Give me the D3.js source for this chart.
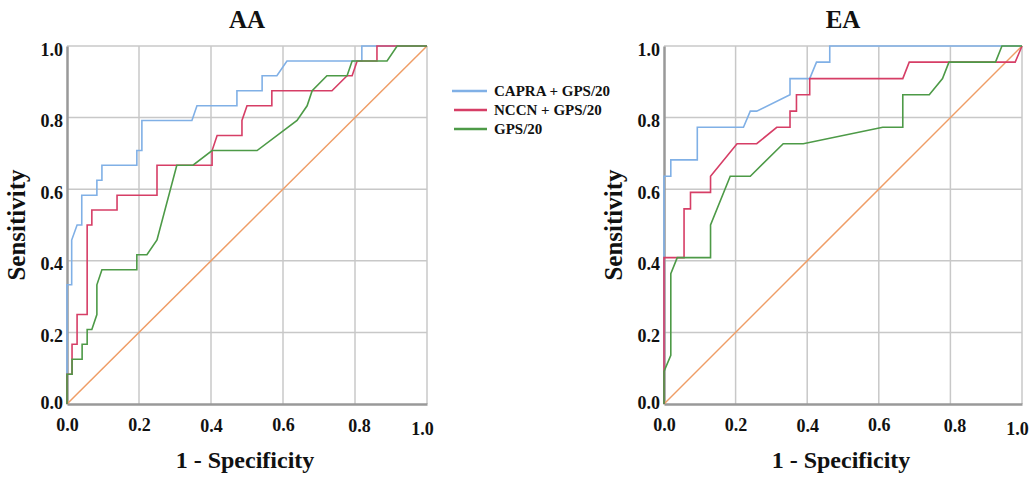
<!DOCTYPE html>
<html><head><meta charset="utf-8">
<script src="https://cdn.jsdelivr.net/npm/d3@7"></script>
<style>body{margin:0;background:#fff;} text{font-family:"Liberation Serif","Times New Roman",serif;font-weight:bold;fill:#111;}</style>
</head><body>
<svg id="c" width="1035" height="477"></svg>
<script>
const ticks = [0, 0.2, 0.4, 0.6, 0.8, 1.0];
const seriesNames = ["CAPRA + GPS/20", "NCCN + GPS/20", "GPS/20"];
const panelTitles = ["AA", "EA"];

const aaCapra = [[0,0],[0,0.333],[0.013,0.333],[0.013,0.458],[0.028,0.5],[0.041,0.5],[0.041,0.583],[0.083,0.583],[0.083,0.625],[0.097,0.625],[0.097,0.667],[0.194,0.667],[0.194,0.708],[0.208,0.708],[0.208,0.792],[0.347,0.792],[0.361,0.833],[0.472,0.833],[0.472,0.875],[0.542,0.875],[0.542,0.917],[0.583,0.917],[0.611,0.958],[0.819,0.958],[0.819,1],[1,1]];
const aaNccn = [[0,0],[0,0.083],[0.014,0.083],[0.014,0.167],[0.028,0.167],[0.028,0.25],[0.056,0.25],[0.056,0.5],[0.069,0.5],[0.069,0.542],[0.139,0.542],[0.139,0.583],[0.25,0.583],[0.25,0.667],[0.403,0.667],[0.403,0.708],[0.417,0.75],[0.486,0.75],[0.486,0.792],[0.5,0.833],[0.569,0.833],[0.569,0.875],[0.736,0.875],[0.778,0.917],[0.792,0.917],[0.806,0.958],[0.861,0.958],[0.861,1],[1,1]];
const aaGps = [[0,0],[0,0.083],[0.014,0.083],[0.014,0.125],[0.042,0.125],[0.042,0.167],[0.056,0.167],[0.056,0.208],[0.069,0.208],[0.083,0.25],[0.083,0.333],[0.097,0.375],[0.194,0.375],[0.194,0.417],[0.222,0.417],[0.25,0.458],[0.305,0.667],[0.35,0.667],[0.403,0.708],[0.528,0.708],[0.639,0.792],[0.667,0.833],[0.681,0.875],[0.722,0.917],[0.778,0.917],[0.792,0.958],[0.889,0.958],[0.917,1],[1,1]];

const eaCapra = [[0,0],[0,0.636],[0.019,0.636],[0.019,0.682],[0.093,0.682],[0.093,0.773],[0.222,0.773],[0.241,0.818],[0.259,0.818],[0.352,0.864],[0.352,0.909],[0.407,0.909],[0.426,0.955],[0.463,0.955],[0.463,1],[1,1]];
const eaNccn = [[0,0],[0,0.409],[0.056,0.409],[0.056,0.545],[0.074,0.545],[0.074,0.591],[0.13,0.591],[0.13,0.636],[0.204,0.727],[0.259,0.727],[0.315,0.773],[0.352,0.773],[0.352,0.818],[0.37,0.818],[0.37,0.864],[0.407,0.864],[0.407,0.909],[0.667,0.909],[0.685,0.955],[0.981,0.955],[1,1]];
const eaGps = [[0,0],[0,0.091],[0.019,0.136],[0.019,0.364],[0.037,0.409],[0.13,0.409],[0.13,0.5],[0.185,0.636],[0.241,0.636],[0.333,0.727],[0.389,0.727],[0.611,0.773],[0.667,0.773],[0.667,0.864],[0.741,0.864],[0.778,0.909],[0.796,0.955],[0.926,0.955],[0.944,1],[1,1]];
const reference = [[0,0],[1,1]];

const colors = ["#80b0e6", "#d63e66", "#4d9a47"];
const refColor = "#ef9d66";

const svg = d3.select("#c");
const panels = [
  {title: panelTitles[0], left: 67, right: 427, top: 46, bottom: 404, series: [aaCapra, aaNccn, aaGps]},
  {title: panelTitles[1], left: 664, right: 1022, top: 46, bottom: 404, series: [eaCapra, eaNccn, eaGps]}
];

panels.forEach(p => {
  const x = d3.scaleLinear().domain([0,1]).range([p.left, p.right]);
  const y = d3.scaleLinear().domain([0,1]).range([p.bottom, p.top]);
  const g = svg.append("g");
  // grid
  g.selectAll(".gx").data(ticks.slice(1)).join("line")
    .attr("x1", d => x(d)).attr("x2", d => x(d)).attr("y1", y(0)).attr("y2", y(1))
    .attr("stroke", "#c8c8c8").attr("stroke-width", 1.5);
  g.selectAll(".gy").data(ticks.slice(1)).join("line")
    .attr("y1", d => y(d)).attr("y2", d => y(d)).attr("x1", x(0)).attr("x2", x(1))
    .attr("stroke", "#c8c8c8").attr("stroke-width", 1.5);
  // axes
  const ax = g.append("g").attr("transform", `translate(0,${y(0)})`)
    .call(d3.axisBottom(x).tickValues(ticks).tickFormat(d3.format(".1f")).tickSize(0).tickPadding(14));
  ax.select(".domain").attr("stroke", "#999").attr("stroke-width", 2.5);
  ax.selectAll("text").attr("font-size", 18).attr("fill", "#111")
    .attr("dx", d => d === 1 ? -5 : (d === 0.8 ? 4 : 0))
    .attr("dy", (d) => d === 1 ? "0.95em" : (d === 0.4 || d === 0.8 ? "0.8em" : "0.7em"));
  const ay = g.append("g").attr("transform", `translate(${x(0)},0)`)
    .call(d3.axisLeft(y).tickValues(ticks).tickFormat(d3.format(".1f")).tickSize(0).tickPadding(4));
  ay.select(".domain").attr("stroke", "#999").attr("stroke-width", 2.5);
  ay.selectAll("text").attr("font-size", 18).attr("fill", "#111")
    .attr("dy", d => d === 0 ? "0.25em" : "0.5em");
  // reference
  const line = d3.line().x(d => x(d[0])).y(d => y(d[1]));
  g.append("path").datum(reference).attr("d", line).attr("fill", "none")
    .attr("stroke", refColor).attr("stroke-width", 1.5);
  p.series.forEach((s, i) => {
    g.append("path").datum(s).attr("d", line).attr("fill", "none")
      .attr("stroke", colors[i]).attr("stroke-width", 1.6);
  });
  // title
  const cx = (p.left + p.right) / 2;
  g.append("text").attr("x", cx).attr("y", 28).attr("text-anchor", "middle")
    .attr("font-size", 25).text(p.title);
  g.append("text").attr("x", cx - 2).attr("y", 468).attr("text-anchor", "middle")
    .attr("font-size", 24).text("1 - Specificity");
  g.append("text").attr("transform", `translate(${p.left - 42},${(p.top + p.bottom) / 2}) rotate(-90)`)
    .attr("text-anchor", "middle").attr("font-size", 25).text("Sensitivity");
});

// legend
const lg = svg.append("g").attr("transform", "translate(452,91)");
seriesNames.forEach((n, i) => {
  lg.append("line").attr("x1", i === 0 ? 0 : 2).attr("x2", 35).attr("y1", i * 19).attr("y2", i * 19)
    .attr("stroke", colors[i]).attr("stroke-width", 2.5);
  lg.append("text").attr("x", 42).attr("y", i * 19).attr("dy", "0.35em").attr("font-size", 15).text(n);
});
</script>
</body></html>
